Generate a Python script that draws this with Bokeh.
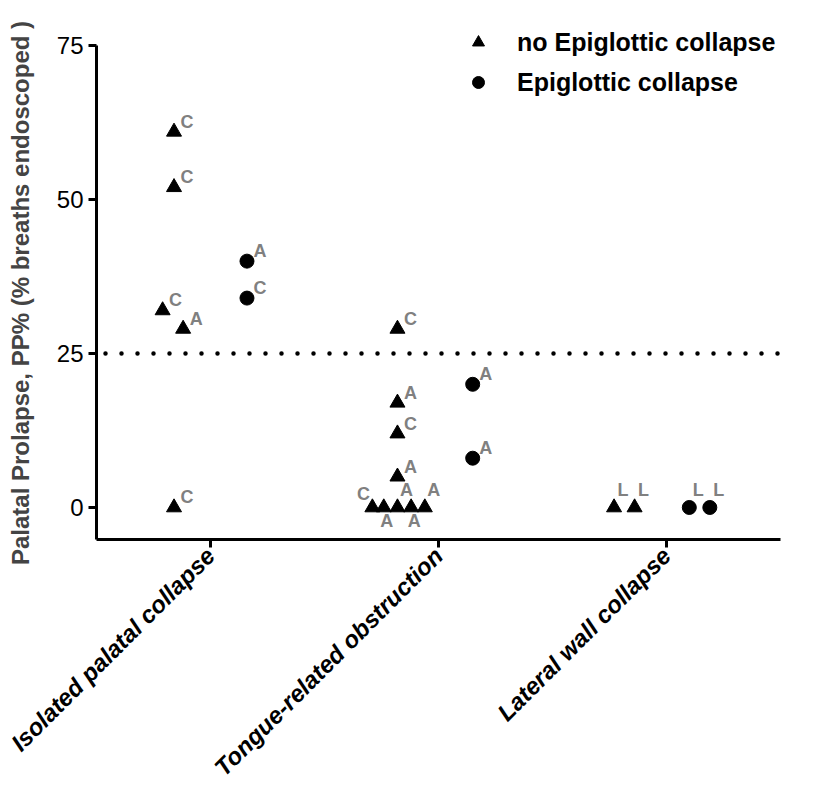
import math
from bokeh.plotting import figure
from bokeh.models import (FactorRange, Range1d, FixedTicker, Span, Legend,
                          LegendItem, ColumnDataSource)
from bokeh.core.properties import value
from bokeh.embed import file_html
from bokeh.resources import INLINE

# ---------------- data ----------------
categories = ["Isolated palatal collapse", "Tongue-related obstruction", "Lateral wall collapse"]
y_ticks = [0, 25, 50, 75]
threshold = 25

# no Epiglottic collapse (triangles)
tri_category = [0, 0, 0, 0, 0,
                1, 1, 1, 1, 1, 1, 1, 1, 1,
                2, 2]
tri_value = [61, 52, 32, 29, 0,
             29, 17, 12, 5, 0, 0, 0, 0, 0,
             0, 0]
tri_spread = [-0.16, -0.16, -0.21, -0.12, -0.16,
              -0.18, -0.18, -0.18, -0.18, -0.29, -0.24, -0.18, -0.12, -0.06,
              -0.23, -0.14]
tri_label = ["C", "C", "C", "A", "C",
             "C", "A", "C", "A", "C", "A", "A", "A", "A",
             "L", "L"]
tri_label_side = ["ur", "ur", "ur", "ur", "ur",
                  "ur", "ur", "ur", "ur", "ul", "d", "u", "d", "u",
                  "u", "u"]

# Epiglottic collapse (circles)
dot_category = [0, 0, 1, 1, 2, 2]
dot_value = [40, 34, 20, 8, 0, 0]
dot_spread = [0.16, 0.16, 0.15, 0.15, 0.10, 0.19]
dot_label = ["A", "C", "A", "A", "L", "L"]
dot_label_side = ["ur", "ur", "ur", "ur", "u", "u"]

# ---------------- styling ----------------
FONT = "Liberation Sans"
LABEL_GREY = "#808080"
side_offsets = {"ur": (13, -10), "u": (9, -17), "ul": (-9, -13), "d": (3, 14)}


def make_source(cat_idx, vals, spread, labels, sides):
    xs = [(categories[c], s) for c, s in zip(cat_idx, spread)]
    return ColumnDataSource(dict(
        x=xs, y=vals, label=labels,
        dx=[side_offsets[s][0] for s in sides],
        dy=[side_offsets[s][1] for s in sides],
    ))


tri_src = make_source(tri_category, tri_value, tri_spread, tri_label, tri_label_side)
dot_src = make_source(dot_category, dot_value, dot_spread, dot_label, dot_label_side)

p = figure(width=817, height=793,
           x_range=FactorRange(factors=categories, range_padding=0),
           y_range=Range1d(-5.2, 78.1),
           output_backend="svg", toolbar_location=None,
           min_border_left=96, min_border_right=37,
           min_border_top=26, min_border_bottom=253)

p.outline_line_color = None
p.xgrid.visible = False
p.ygrid.visible = False
p.background_fill_color = "white"
p.border_fill_color = "white"

# threshold dotted line
p.add_layout(Span(location=threshold, dimension="width", line_color="black",
                  line_width=4.5, line_dash="0 16", line_dash_offset=7,
                  line_cap="round"))

r_tri = p.scatter("x", "y", source=tri_src, marker="triangle", size=15,
                  fill_color="black", line_color="black")
r_dot = p.scatter("x", "y", source=dot_src, marker="circle", size=14,
                  fill_color="black", line_color="black")

for src in (tri_src, dot_src):
    p.text("x", "y", text="label", source=src, x_offset="dx", y_offset="dy",
           text_align="center", text_baseline="middle",
           text_font=value(FONT), text_font_style="bold",
           text_font_size="18px", text_color=LABEL_GREY)

# axes
p.yaxis.ticker = FixedTicker(ticks=y_ticks)
p.yaxis.minor_tick_line_color = None
p.yaxis.axis_label = "Palatal Prolapse, PP% (% breaths endoscoped )" + "\u00a0" * 3
p.yaxis.axis_label_text_font = FONT
p.yaxis.axis_label_text_font_style = "bold"
p.yaxis.axis_label_text_font_size = "24px"
p.yaxis.axis_label_standoff = 20
p.yaxis.major_label_text_font = FONT
p.yaxis.major_label_text_font_size = "24px"
p.yaxis.major_label_standoff = 5
p.yaxis.bounds = (-5.2, 75)

for ax in (p.xaxis[0], p.yaxis[0]):
    ax.axis_line_width = 3
    ax.axis_line_color = "black"
    ax.major_tick_line_width = 3
    ax.major_tick_line_color = "black"
    ax.major_tick_out = 8
    ax.major_tick_in = 0
    ax.major_label_text_color = "black"

p.xaxis.major_label_orientation = math.pi / 4
p.xaxis.major_label_text_font = FONT
p.xaxis.major_label_text_font_style = "bold italic"
p.xaxis.major_label_text_font_size = "24px"
p.xaxis.major_label_standoff = 4

legend = Legend(items=[LegendItem(label="no Epiglottic collapse", renderers=[r_tri]),
                       LegendItem(label="Epiglottic collapse", renderers=[r_dot])],
                location=(367, 442), orientation="vertical",
                glyph_width=30, glyph_height=30, label_height=30,
                label_standoff=24, spacing=10, padding=0, margin=0,
                border_line_color=None, background_fill_alpha=0,
                label_text_font=FONT, label_text_font_style="bold",
                label_text_font_size="25px", label_text_color="black")
p.add_layout(legend, "center")

open("out.html", "w").write(file_html(p, INLINE))
